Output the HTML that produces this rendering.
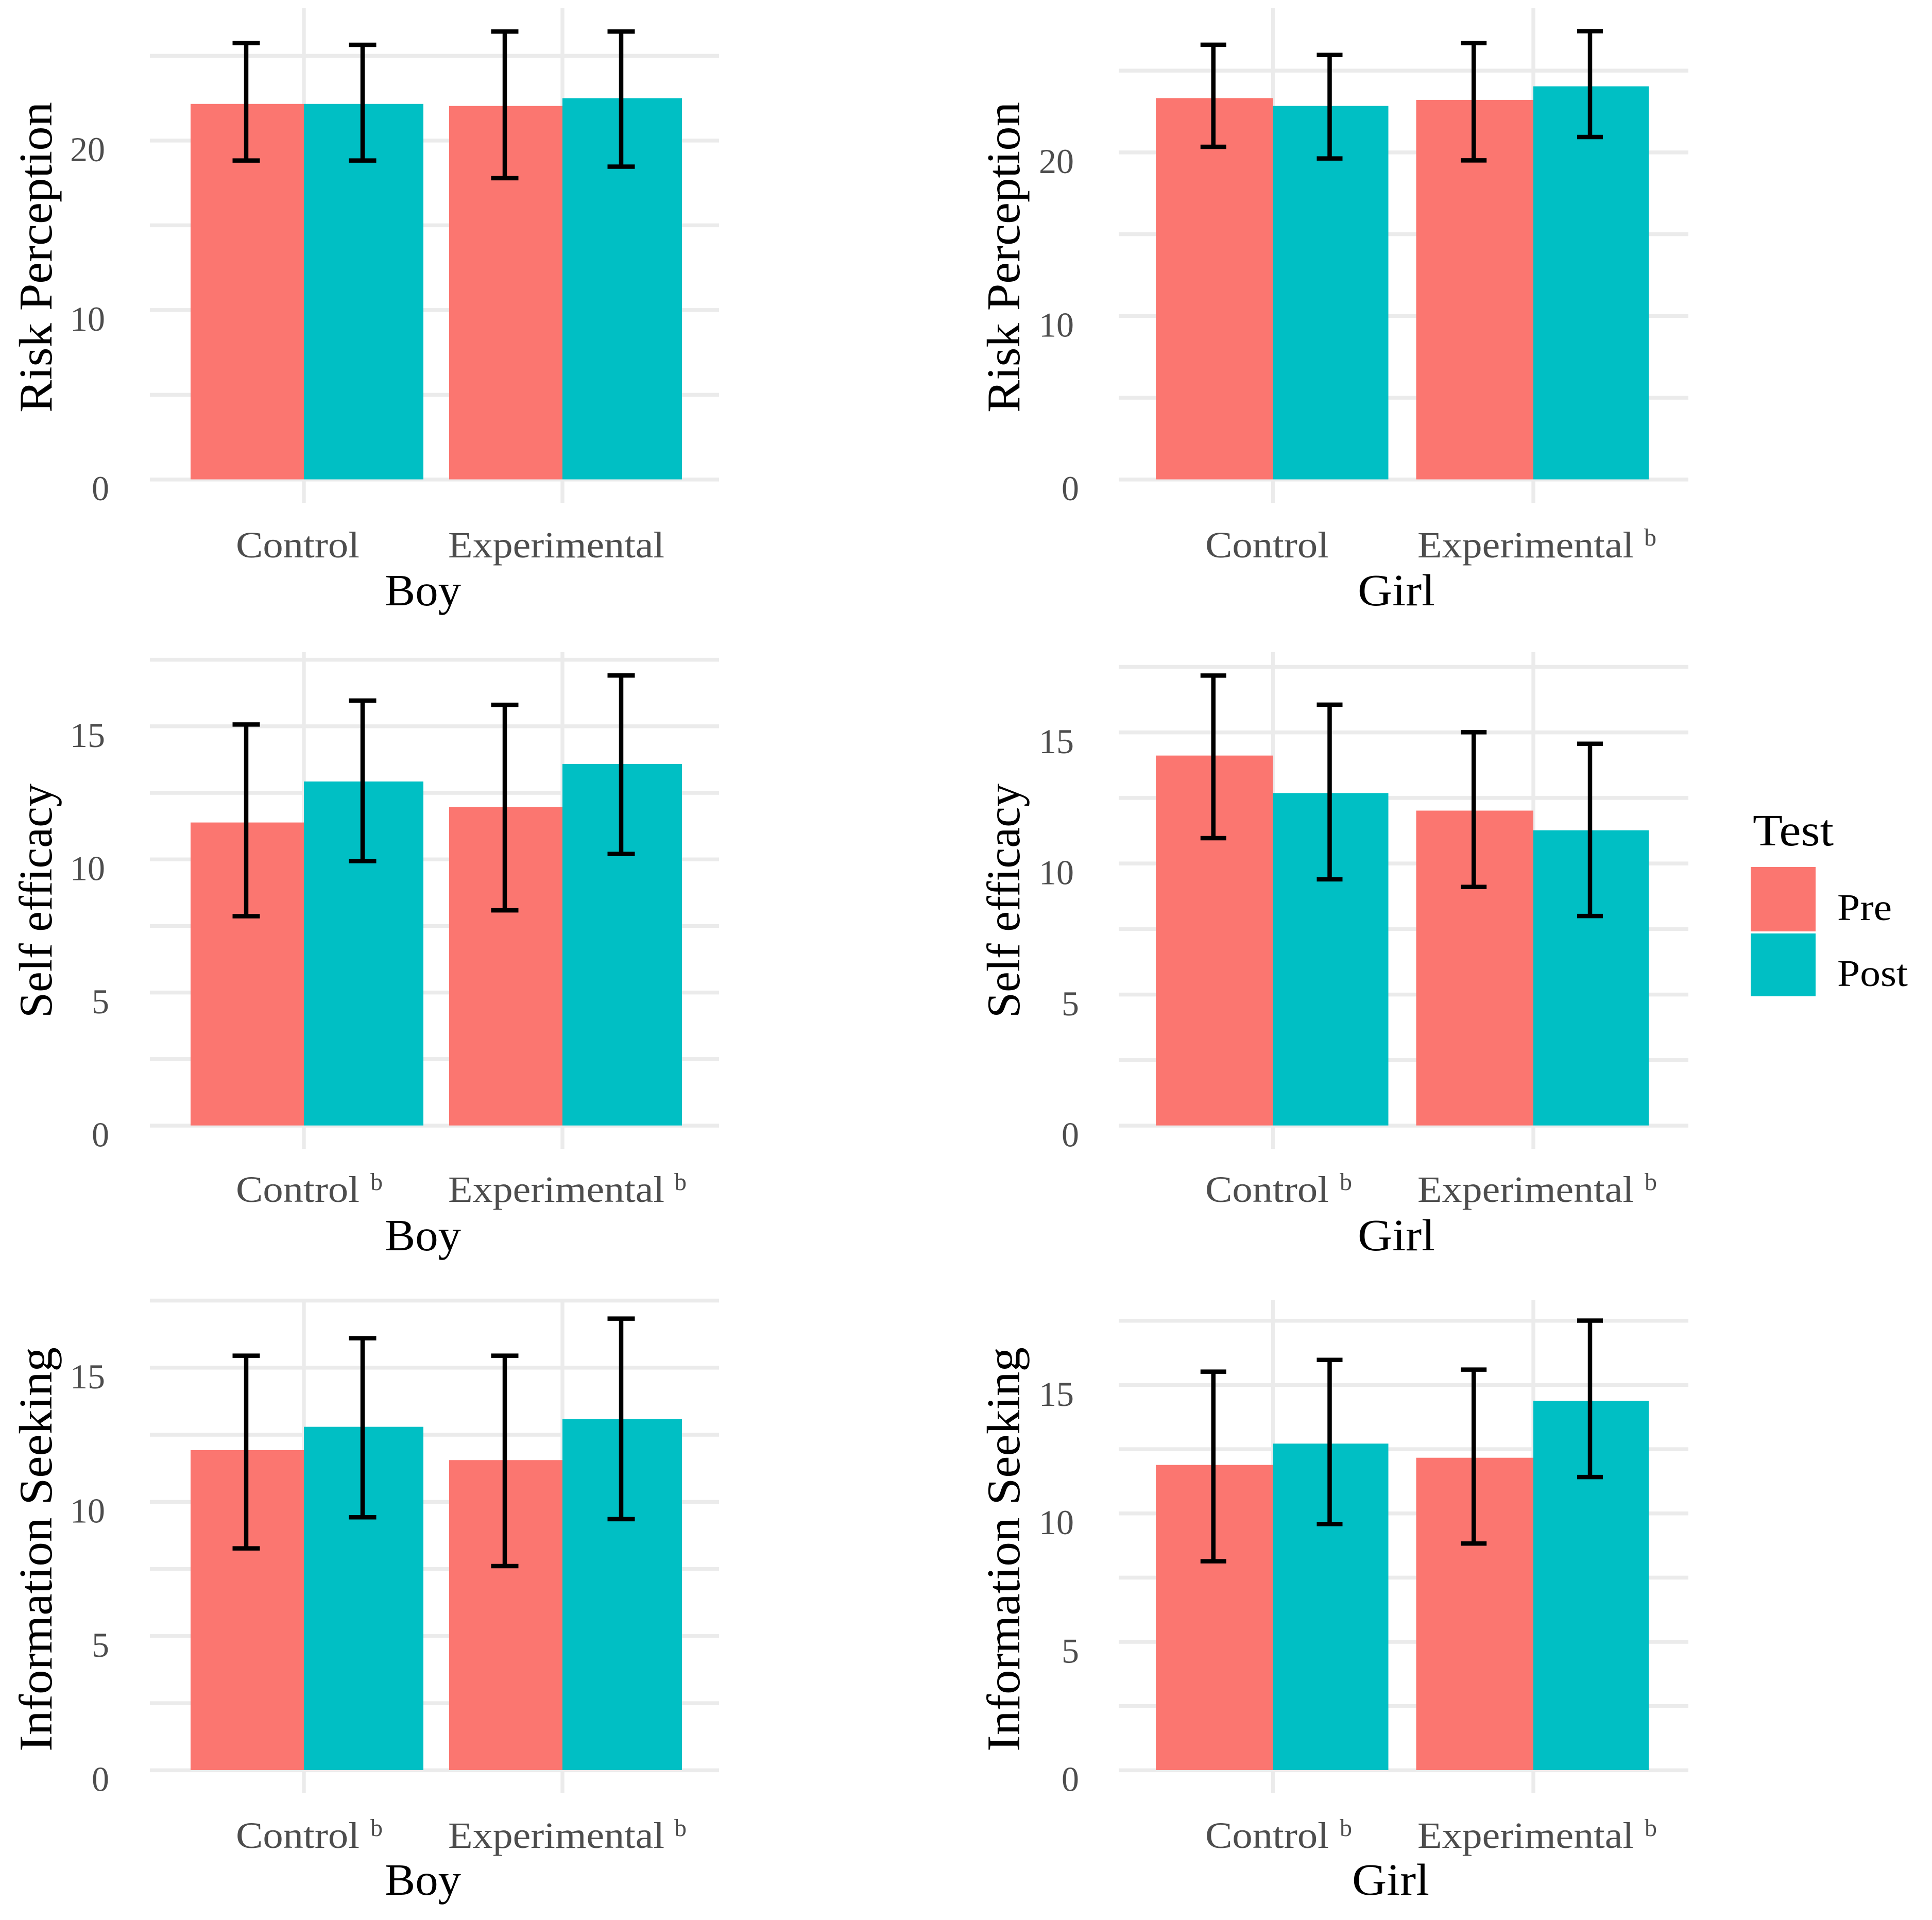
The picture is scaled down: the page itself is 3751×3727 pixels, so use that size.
<!DOCTYPE html>
<html lang="en">
<head>
<meta charset="utf-8">
<title>Pre and post test scores by group and gender</title>
<style>
html,body{margin:0;padding:0;background:#fff;width:3751px;height:3727px;overflow:hidden}
svg{display:block}
text{font-family:"Liberation Serif",serif}
.xt{font-size:72px;fill:#4d4d4d}
.sup{font-size:48px;fill:#4d4d4d}
.at{font-size:87px;fill:#000}
.yt{font-size:91px;fill:#000}
.lg{font-size:73px;fill:#000}
</style>
</head>
<body>
<svg id="chart" xmlns="http://www.w3.org/2000/svg" width="3751" height="3727" viewBox="0 0 3751 3727">
  <rect width="3751" height="3727" fill="#fff"/>
  <g id="marks"></g>

  <g>
    <text class="xt" x="458" y="1082" textLength="240" lengthAdjust="spacingAndGlyphs">Control</text>
    <text class="xt" x="870" y="1082" textLength="420" lengthAdjust="spacingAndGlyphs">Experimental</text>
    <text class="xt" x="2340" y="1082" textLength="240" lengthAdjust="spacingAndGlyphs">Control</text>
    <text class="xt" x="2752" y="1082" textLength="420" lengthAdjust="spacingAndGlyphs">Experimental</text>
    <text class="sup" x="3192" y="1059">b</text>

    <text class="xt" x="458" y="2333" textLength="240" lengthAdjust="spacingAndGlyphs">Control</text>
    <text class="sup" x="719" y="2310">b</text>
    <text class="xt" x="870" y="2333" textLength="420" lengthAdjust="spacingAndGlyphs">Experimental</text>
    <text class="sup" x="1309" y="2310">b</text>
    <text class="xt" x="2340" y="2333" textLength="240" lengthAdjust="spacingAndGlyphs">Control</text>
    <text class="sup" x="2601" y="2310">b</text>
    <text class="xt" x="2752" y="2333" textLength="420" lengthAdjust="spacingAndGlyphs">Experimental</text>
    <text class="sup" x="3193" y="2310">b</text>

    <text class="xt" x="458" y="3587" textLength="240" lengthAdjust="spacingAndGlyphs">Control</text>
    <text class="sup" x="719" y="3564">b</text>
    <text class="xt" x="870" y="3587" textLength="420" lengthAdjust="spacingAndGlyphs">Experimental</text>
    <text class="sup" x="1309" y="3564">b</text>
    <text class="xt" x="2340" y="3587" textLength="240" lengthAdjust="spacingAndGlyphs">Control</text>
    <text class="sup" x="2601" y="3564">b</text>
    <text class="xt" x="2752" y="3587" textLength="420" lengthAdjust="spacingAndGlyphs">Experimental</text>
    <text class="sup" x="3193" y="3564">b</text>
  </g>

  <g>
    <text class="at" x="747" y="1175" textLength="148" lengthAdjust="spacingAndGlyphs">Boy</text>
    <text class="at" x="2636" y="1175" textLength="150" lengthAdjust="spacingAndGlyphs">Girl</text>
    <text class="at" x="747" y="2427" textLength="148" lengthAdjust="spacingAndGlyphs">Boy</text>
    <text class="at" x="2636" y="2427" textLength="150" lengthAdjust="spacingAndGlyphs">Girl</text>
    <text class="at" x="747" y="3678" textLength="148" lengthAdjust="spacingAndGlyphs">Boy</text>
    <text class="at" x="2625" y="3678" textLength="150" lengthAdjust="spacingAndGlyphs">Girl</text>
  </g>

  <g>
    <text class="yt" transform="translate(100 801) rotate(-90)" textLength="603" lengthAdjust="spacingAndGlyphs">Risk Perception</text>
    <text class="yt" transform="translate(1979 801) rotate(-90)" textLength="603" lengthAdjust="spacingAndGlyphs">Risk Perception</text>
    <text class="yt" transform="translate(100 1976) rotate(-90)" textLength="455" lengthAdjust="spacingAndGlyphs">Self efficacy</text>
    <text class="yt" transform="translate(1979 1976) rotate(-90)" textLength="455" lengthAdjust="spacingAndGlyphs">Self efficacy</text>
    <text class="yt" transform="translate(100 3400) rotate(-90)" textLength="785" lengthAdjust="spacingAndGlyphs">Information Seeking</text>
    <text class="yt" transform="translate(1979 3400) rotate(-90)" textLength="785" lengthAdjust="spacingAndGlyphs">Information Seeking</text>
  </g>

  <g>
    <text class="at" x="3403" y="1641" textLength="157" lengthAdjust="spacingAndGlyphs">Test</text>
    <rect x="3399" y="1683" width="126" height="125" fill="#fb7670"/>
    <rect x="3399" y="1812" width="126" height="122" fill="#00bfc4"/>
    <text class="lg" x="3567" y="1786" textLength="106" lengthAdjust="spacingAndGlyphs">Pre</text>
    <text class="lg" x="3567" y="1914" textLength="137" lengthAdjust="spacingAndGlyphs">Post</text>
  </g>
</svg>

<script>
// Tick values and labels
const riskTicks = [0, 5, 10, 15, 20, 25];
const riskTickLabels = ['0', '', '10', '', '20', ''];
const scaleTicks = [0, 2.5, 5, 7.5, 10, 12.5, 15, 17.5];
const scaleTickLabels = ['0', '', '5', '', '10', '', '15', ''];

// Risk Perception, Boy
const riskBoyPre = [22.15, 22.03];
const riskBoyPost = [22.15, 22.49];
const riskBoyPreLow = [18.81, 17.77];
const riskBoyPreHigh = [25.74, 26.42];
const riskBoyPostLow = [18.81, 18.45];
const riskBoyPostHigh = [25.64, 26.42];

// Risk Perception, Girl
const riskGirlPre = [23.31, 23.2];
const riskGirlPost = [22.83, 24.03];
const riskGirlPreLow = [20.33, 19.5];
const riskGirlPreHigh = [26.57, 26.67];
const riskGirlPostLow = [19.62, 20.93];
const riskGirlPostHigh = [25.95, 27.4];

// Self efficacy, Boy
const selfBoyPre = [11.38, 11.96];
const selfBoyPost = [12.92, 13.58];
const selfBoyPreLow = [7.86, 8.08];
const selfBoyPreHigh = [15.06, 15.8];
const selfBoyPostLow = [9.93, 10.2];
const selfBoyPostHigh = [15.96, 16.9];

// Self efficacy, Girl
const selfGirlPre = [14.11, 12.01];
const selfGirlPost = [12.68, 11.26];
const selfGirlPreLow = [10.96, 9.1];
const selfGirlPreHigh = [17.16, 15.0];
const selfGirlPostLow = [9.39, 7.99];
const selfGirlPostHigh = [16.05, 14.56];

// Information Seeking, Boy
const infoBoyPre = [11.92, 11.55];
const infoBoyPost = [12.79, 13.08];
const infoBoyPreLow = [8.26, 7.6];
const infoBoyPreHigh = [15.44, 15.44];
const infoBoyPostLow = [9.42, 9.35];
const infoBoyPostHigh = [16.09, 16.82];

// Information Seeking, Girl
const infoGirlPre = [11.88, 12.16];
const infoGirlPost = [12.71, 14.38];
const infoGirlPreLow = [8.13, 8.82];
const infoGirlPreHigh = [15.51, 15.59];
const infoGirlPostLow = [9.58, 11.41];
const infoGirlPostHigh = [15.97, 17.5];

// Panel geometry, separate from the data above
const columnLeft = {gridFrom: 291, gridTo: 1396, centers: [590, 1092], preWidth: 220, postWidth: 232, tickEnd2: 204, tickEnd1: 212, cap: 26.5};
const columnRight = {gridFrom: 2172, gridTo: 3278, centers: [2471.5, 2977], preWidth: 227.5, postWidth: 224, tickEnd2: 2085, tickEnd1: 2095, cap: 25};
const rowTop = {zero: 930.5, top: 16, bottom: 976};
const rowMiddle = {zero: 2184.7, top: 1266, bottom: 2230};
const rowBottom = {zero: 3436, top: 2524, bottom: 3480};

const panels = [
  {id: 'risk-boy', col: columnLeft, row: rowTop, unit: 32.9, ticks: riskTicks, labels: riskTickLabels,
   pre: riskBoyPre, post: riskBoyPost, preLow: riskBoyPreLow, preHigh: riskBoyPreHigh, postLow: riskBoyPostLow, postHigh: riskBoyPostHigh},
  {id: 'risk-girl', col: columnRight, row: rowTop, unit: 31.75, ticks: riskTicks, labels: riskTickLabels,
   pre: riskGirlPre, post: riskGirlPost, preLow: riskGirlPreLow, preHigh: riskGirlPreHigh, postLow: riskGirlPostLow, postHigh: riskGirlPostHigh},
  {id: 'self-boy', col: columnLeft, row: rowMiddle, unit: 51.68, ticks: scaleTicks, labels: scaleTickLabels,
   pre: selfBoyPre, post: selfBoyPost, preLow: selfBoyPreLow, preHigh: selfBoyPreHigh, postLow: selfBoyPostLow, postHigh: selfBoyPostHigh},
  {id: 'self-girl', col: columnRight, row: rowMiddle, unit: 50.89, ticks: scaleTicks, labels: scaleTickLabels,
   pre: selfGirlPre, post: selfGirlPost, preLow: selfGirlPreLow, preHigh: selfGirlPreHigh, postLow: selfGirlPostLow, postHigh: selfGirlPostHigh},
  {id: 'info-boy', col: columnLeft, row: rowBottom, unit: 52.1, ticks: scaleTicks, labels: scaleTickLabels,
   pre: infoBoyPre, post: infoBoyPost, preLow: infoBoyPreLow, preHigh: infoBoyPreHigh, postLow: infoBoyPostLow, postHigh: infoBoyPostHigh},
  {id: 'info-girl', col: columnRight, row: rowBottom, unit: 49.86, ticks: scaleTicks, labels: scaleTickLabels,
   pre: infoGirlPre, post: infoGirlPost, preLow: infoGirlPreLow, preHigh: infoGirlPreHigh, postLow: infoGirlPostLow, postHigh: infoGirlPostHigh}
];

const SVG_NS = 'http://www.w3.org/2000/svg';
const root = document.getElementById('marks');

function node(tag, props) {
  const el = document.createElementNS(SVG_NS, tag);
  for (const key in props) el.setAttribute(key, props[key]);
  root.appendChild(el);
  return el;
}

function yScale(panel, value) {
  return panel.row.zero - value * panel.unit;
}

function drawGrid(panel) {
  panel.ticks.forEach(function (tick) {
    const line = node('rect', {x: panel.col.gridFrom, y: yScale(panel, tick) - 3.4, width: panel.col.gridTo - panel.col.gridFrom, height: 7.5, fill: '#ebebeb'});
    
    
  });
  panel.col.centers.forEach(function (center) {
    const line = node('rect', {x: center - 3.7, y: panel.row.top, width: 7.4, height: panel.row.bottom - panel.row.top, fill: '#ebebeb'});
    
    
  });
}

function drawBars(panel) {
  panel.col.centers.forEach(function (center, i) {
    const preTop = yScale(panel, panel.pre[i]);
    const preBar = node('rect', {x: center - panel.col.preWidth, y: preTop, width: panel.col.preWidth, height: panel.row.zero - preTop, fill: '#fb7670'});
    
    
    const postTop = yScale(panel, panel.post[i]);
    const postBar = node('rect', {x: center, y: postTop, width: panel.col.postWidth, height: panel.row.zero - postTop, fill: '#00bfc4'});
    
    
  });
}

function drawErrorBar(panel, x, low, high) {
  const yHigh = yScale(panel, high);
  const yLow = yScale(panel, low);
  const d = 'M' + (x - panel.col.cap) + ' ' + yHigh + 'H' + (x + panel.col.cap) +
            'M' + x + ' ' + yHigh + 'V' + yLow +
            'M' + (x - panel.col.cap) + ' ' + yLow + 'H' + (x + panel.col.cap);
  const path = node('path', {d: d, fill: 'none', stroke: '#000', 'stroke-width': 8.5});
  
  
}

function drawErrors(panel) {
  panel.col.centers.forEach(function (center, i) {
    drawErrorBar(panel, center - panel.col.preWidth / 2 - 2, panel.preLow[i], panel.preHigh[i]);
    drawErrorBar(panel, center + panel.col.postWidth / 2 - 2, panel.postLow[i], panel.postHigh[i]);
  });
}

function drawTickLabels(panel) {
  panel.ticks.forEach(function (tick, i) {
    const label = panel.labels[i];
    if (!label) return;
    const end = label.length > 1 ? panel.col.tickEnd2 : panel.col.tickEnd1;
    const text = node('text', {x: end, y: yScale(panel, tick) + 40.7, 'text-anchor': 'end', 'font-size': 68, fill: '#4d4d4d'});
    text.textContent = label;
    
    
  });
}

panels.forEach(function (panel) {
  drawGrid(panel);
  drawBars(panel);
  drawErrors(panel);
  drawTickLabels(panel);
});
</script>
</body>
</html>
